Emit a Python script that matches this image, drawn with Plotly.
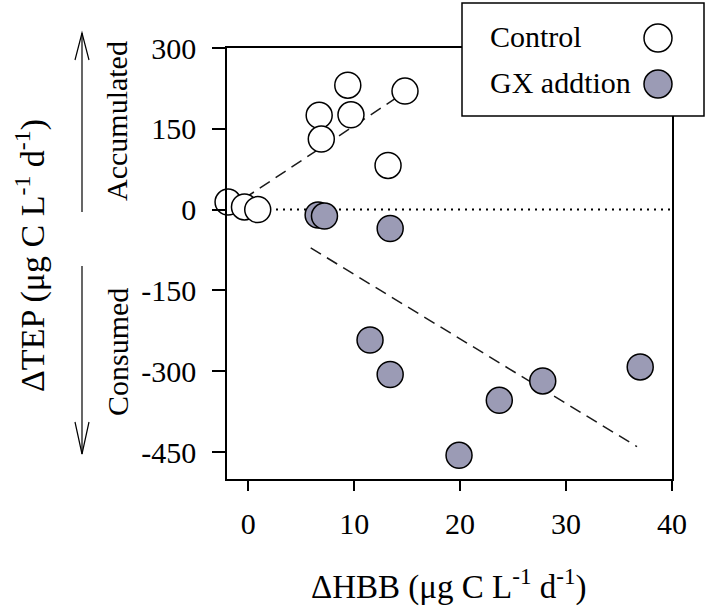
import plotly.graph_objects as go

# ---- data ----
ctrl_x = [-1.9, -0.35, 0.9, 6.7, 6.9, 9.4, 9.7, 14.8, 13.2]
ctrl_y = [14, 5, 0, 175, 131, 231, 176, 220, 82]
gx_x = [6.6, 7.2, 13.4, 11.5, 13.4, 19.9, 23.7, 27.8, 37.0]
gx_y = [-10, -12, -35, -242, -306, -456, -354, -318, -292]
ctrl_fit_x = [-1.9, 14.8]
ctrl_fit_y = [1, 218]
gx_fit_x = [5.9, 36.7]
gx_fit_y = [-71, -440]
zero_x = [-2, 40]
zero_y = [0, 0]
x_ticks = [0, 10, 20, 30, 40]
y_ticks = [300, 150, 0, -150, -300, -450]
series_names = ["Control", "GX addtion"]

W, H = 708, 607
L, R, T, B = 227, 672, 48, 479
FONT = "Liberation Serif, Times New Roman, serif"
GREY = "#9b9bb5"


def px(x):
    return (x - L) / (R - L)


def py(y):
    return (B - y) / (B - T)


fig = go.Figure()
fig.add_trace(go.Scatter(x=zero_x, y=zero_y, mode="lines",
                         line=dict(color="black", width=2, dash="2px,5px"),
                         showlegend=False, hoverinfo="skip"))
fig.add_trace(go.Scatter(x=ctrl_fit_x, y=ctrl_fit_y, mode="lines",
                         line=dict(color="#1a1a1a", width=1.5, dash="12px,7px"),
                         showlegend=False, hoverinfo="skip"))
fig.add_trace(go.Scatter(x=gx_fit_x, y=gx_fit_y, mode="lines",
                         line=dict(color="#1a1a1a", width=1.5, dash="12px,7px"),
                         showlegend=False, hoverinfo="skip"))
fig.add_trace(go.Scatter(x=ctrl_x, y=ctrl_y, mode="markers", name=series_names[0],
                         marker=dict(size=26, color="white", line=dict(color="black", width=1.5)),
                         showlegend=False, cliponaxis=False))
fig.add_trace(go.Scatter(x=gx_x, y=gx_y, mode="markers", name=series_names[1],
                         marker=dict(size=26, color=GREY, line=dict(color="black", width=1.5)),
                         showlegend=False, cliponaxis=False))

shapes = []
# legend box
shapes.append(dict(type="rect", xref="paper", yref="paper",
                   x0=px(462), x1=px(704), y0=py(116), y1=py(3),
                   fillcolor="white", line=dict(color="black", width=1.5), layer="above"))
for yy, col in [(38, "white"), (84, GREY)]:
    shapes.append(dict(type="circle", xref="paper", yref="paper",
                       xsizemode="pixel", ysizemode="pixel",
                       xanchor=px(658), yanchor=py(yy),
                       x0=-14, x1=14, y0=-14, y1=14,
                       fillcolor=col, line=dict(color="black", width=1.5), layer="above"))


def path(points):
    return "M " + " L ".join(f"{px(a)},{py(b)}" for a, b in points)


arrow_line = dict(color="black", width=1.2)
shapes.append(dict(type="path", xref="paper", yref="paper", path=path([(82, 212), (82, 33)]), line=arrow_line))
shapes.append(dict(type="path", xref="paper", yref="paper", path=path([(75, 60), (82, 33), (89, 60)]), line=arrow_line))
shapes.append(dict(type="path", xref="paper", yref="paper", path=path([(82, 266), (82, 454)]), line=arrow_line))
shapes.append(dict(type="path", xref="paper", yref="paper", path=path([(75, 422), (82, 454), (89, 422)]), line=arrow_line))

annotations = [
    dict(text=series_names[0], xref="paper", yref="paper", x=px(488), y=py(36),
         xanchor="left", yanchor="middle", showarrow=False, font=dict(size=30, family=FONT, color="black")),
    dict(text=series_names[1], xref="paper", yref="paper", x=px(488), y=py(82),
         xanchor="left", yanchor="middle", showarrow=False, font=dict(size=30, family=FONT, color="black")),
    dict(text="ΔHBB (μg C L<sup>-1</sup> d<sup>-1</sup>)", xref="paper", yref="paper",
         x=px(448), y=py(584), xanchor="center", yanchor="middle", showarrow=False,
         font=dict(size=33, family=FONT, color="black")),
    dict(text="ΔTEP (μg C L<sup>-1</sup> d<sup>-1</sup>)", xref="paper", yref="paper",
         x=px(30), y=py(256), xanchor="center", yanchor="middle", showarrow=False, textangle=-90,
         font=dict(size=34, family=FONT, color="black")),
    dict(text="Accumulated", xref="paper", yref="paper",
         x=px(117), y=py(121), xanchor="center", yanchor="middle", showarrow=False, textangle=-90,
         font=dict(size=30, family=FONT, color="black")),
    dict(text="Consumed", xref="paper", yref="paper",
         x=px(117), y=py(352), xanchor="center", yanchor="middle", showarrow=False, textangle=-90,
         font=dict(size=30, family=FONT, color="black")),
]

fig.update_layout(
    width=W, height=H,
    margin=dict(l=L, r=W - R, t=T, b=H - B, pad=0),
    paper_bgcolor="white", plot_bgcolor="white",
    font=dict(family=FONT, size=30, color="black"),
    shapes=shapes, annotations=annotations,
    showlegend=False,
)
fig.update_xaxes(range=[-2, 40], tickvals=x_ticks, ticktext=[str(v) for v in x_ticks],
                 showgrid=False, zeroline=False, showline=True, mirror=True,
                 linecolor="black", linewidth=1.5, ticks="outside", ticklen=10, tickwidth=1.5,
                 tickcolor="black", ticklabelstandoff=7, tickfont=dict(size=30, family=FONT))
fig.update_yaxes(range=[-500, 300], tickvals=y_ticks, ticktext=[str(v) for v in y_ticks],
                 showgrid=False, zeroline=False, showline=True, mirror=True,
                 linecolor="black", linewidth=1.5, ticks="outside", ticklen=13, tickwidth=1.5,
                 tickcolor="black", ticklabelstandoff=10, tickfont=dict(size=30, family=FONT))

fig.write_html("out.html", config={"displayModeBar": False},
               post_script="document.body.style.margin='0';document.body.style.overflow='hidden';")
